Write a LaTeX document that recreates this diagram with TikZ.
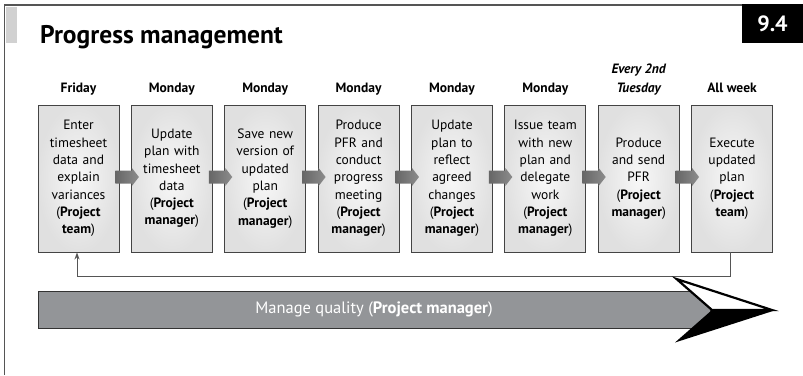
\documentclass[tikz,border=0pt]{standalone}
\usepackage{fontspec}
\setmainfont{PT Sans}
\usetikzlibrary{calc,arrows.meta}
\definecolor{framec}{HTML}{555555}
\definecolor{boxline}{HTML}{444444}
\definecolor{qgray}{HTML}{939598}
\definecolor{qline}{HTML}{333333}
\tikzset{
  stepbox/.style={draw=boxline, line width=0.9pt, minimum width=81pt, minimum height=147pt,
    inner sep=0pt, text width=78pt, align=center, shading=radial,
    inner color=white!97!black, outer color=white!88!black,
    font=\fontsize{13.5}{17.3}\selectfont},
  daylabel/.style={anchor=base, align=center, font=\bfseries\fontsize{13.5}{19}\selectfont},
  blockarrow/.style={shading=axis, left color=black!60, right color=black!45, draw=none},
  feedback/.style={draw=framec, line width=0.9pt},
  qabar/.style={draw=qline, line width=1pt, fill=qgray, minimum width=672pt, minimum height=37pt,
    inner sep=0pt, text=white, font=\fontsize{16.5}{18}\selectfont}
}
\begin{document}
\begin{tikzpicture}[x=1pt,y=-1pt]
\useasboundingbox (0,0) rectangle (803,375);
% frame
\fill[white!82!black] (5.5,6.5) rectangle (17,43);
\draw[framec, line width=1.3pt] (4.5,375) -- (4.5,5) -- (742,5);
\fill[black] (742,4.3) rectangle (803,42.5);
\node[text=white, font=\bfseries\fontsize{22}{24}\selectfont] (num) at (772.5,24) {9.4};
\node[anchor=base west, inner sep=0pt, font=\bfseries\fontsize{25.5}{28}\selectfont] (title) at (40,43) {Progress management};

% boxes
\foreach \i/\t in {
  1/{Enter\\timesheet\\data and\\explain\\variances\\(\textbf{Project}\\\textbf{team})},
  2/{Update\\plan with\\timesheet\\data\\(\textbf{Project}\\\textbf{manager})},
  3/{Save new\\version of\\updated\\plan\\(\textbf{Project}\\\textbf{manager})},
  4/{Produce\\PFR and\\conduct\\progress\\meeting\\(\textbf{Project}\\\textbf{manager})},
  5/{Update\\plan to\\reflect\\agreed\\changes\\(\textbf{Project}\\\textbf{manager})},
  6/{Issue team\\with new\\plan and\\delegate\\work\\(\textbf{Project}\\\textbf{manager})},
  7/{Produce\\and send\\PFR\\(\textbf{Project}\\\textbf{manager})},
  8/{Execute\\updated\\plan\\(\textbf{Project}\\\textbf{team})}}{
  \node[stepbox] (b\i) at ({78.5+93.36*(\i-1)},178.5) {\t};
}

% day labels
\node[daylabel] (d1) at (b1 |- 0,92) {Friday};
\node[daylabel] (d2) at (b2 |- 0,92) {Monday};
\node[daylabel] (d3) at (b3 |- 0,92) {Monday};
\node[daylabel] (d4) at (b4 |- 0,92) {Monday};
\node[daylabel] (d5) at (b5 |- 0,92) {Monday};
\node[daylabel] (d6) at (b6 |- 0,92) {Monday};
\node[daylabel, font=\bfseries\itshape\fontsize{13.5}{19}\selectfont] (d7) at (b7 |- 0,92) {Every 2nd\\Tuesday};
\node[daylabel] (d8) at (b8 |- 0,92) {All week};

% block arrows between boxes
\foreach \a/\b in {1/2,2/3,3/4,4/5,5/6,6/7,7/8}{
  \path[blockarrow]
    ($(b\a.east)+(-4,-8)$) -- ($(b\b.west)+(1,-8)$) -- ($(b\b.west)+(1,-10.5)$)
    -- ($(b\b.west)+(8,-1.5)$) -- ($(b\b.west)+(1,7.5)$) -- ($(b\b.west)+(1,5)$)
    -- ($(b\a.east)+(-4,5)$) -- cycle;
}

% feedback loop
\coordinate (fr) at ($(b8.south)+(-2,24)$);
\coordinate (fl) at ($(b1.south)+(-1.5,24)$);
\draw[feedback, -{Stealth[length=7pt,width=5pt]}] ($(b8.south)+(-2,0)$) -- (fr) -- (fl) -- ($(b1.south)+(-1.5,0)$);

% manage quality arrow
\node[qabar] (qa) at (374,309.5) {Manage quality (\textbf{Project manager})};
\fill[black, line join=miter] (712,310) -- (776,310) -- (675,342.5) -- cycle;
\draw[black, fill=white, line width=2.2pt, line join=miter] (676.5,279) -- (772,310) -- (712,310) -- cycle;
\end{tikzpicture}
\end{document}
